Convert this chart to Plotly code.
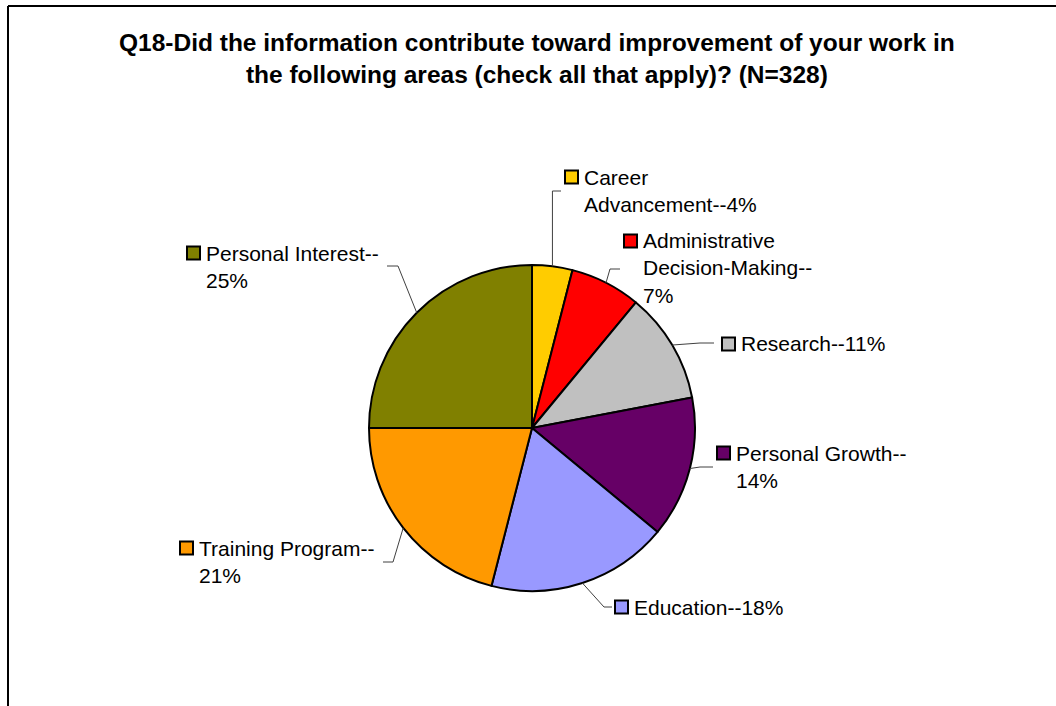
import math
import plotly.graph_objects as go

# Survey responses (percent of mentions), clockwise from 12 o'clock
categories = [
    "Career Advancement",
    "Administrative Decision-Making",
    "Research",
    "Personal Growth",
    "Education",
    "Training Program",
    "Personal Interest",
]
percent = [4, 7, 11, 14, 18, 21, 25]
label_text = [
    "Career<br>Advancement--4%",
    "Administrative<br>Decision-Making--<br>7%",
    "Research--11%",
    "Personal Growth--<br>14%",
    "Education--18%",
    "Training Program--<br>21%",
    "Personal Interest--<br>25%",
]
colors = ["#FFCC00", "#FF0000", "#C0C0C0", "#660066", "#9999FF", "#FF9900", "#808000"]

W, H = 1056, 706
CX, CY, R = 532, 428, 163
FONT = "Liberation Sans, Arial, sans-serif"
FS = 21
LH = 1.3 * FS

# Label placement: text left x, first-line centre y, leader elbow and end (pixels)
label_layout = [
    dict(x=584, y=177, elbow=None, end=(561, 191), vertical=True),
    dict(x=643, y=241, elbow=(610, 269), end=(620, 269)),
    dict(x=741, y=344, elbow=(700, 343), end=(714, 343)),
    dict(x=736, y=453, elbow=(700, 467), end=(713, 467)),
    dict(x=634, y=607, elbow=(604, 607), end=(612, 607)),
    dict(x=199, y=548, elbow=(393, 562), end=(383, 562)),
    dict(x=206, y=253, elbow=(398, 266), end=(387, 266)),
]


def px(x):
    return x / W


def py(y):
    return 1 - y / H


fig = go.Figure(
    go.Pie(
        labels=categories,
        values=percent,
        sort=False,
        direction="clockwise",
        rotation=0,
        marker=dict(colors=colors, line=dict(color="#000000", width=2)),
        textinfo="none",
        hoverinfo="label+percent",
        showlegend=False,
        domain=dict(x=[px(CX - R), px(CX + R)], y=[py(CY + R), py(CY - R)]),
    )
)

shapes = []
annotations = []

# Outer frame (top and left edges visible)
shapes.append(dict(type="line", xref="paper", yref="paper", x0=px(8), y0=py(6), x1=1.0, y1=py(6),
                   line=dict(color="#000000", width=2)))
shapes.append(dict(type="line", xref="paper", yref="paper", x0=px(8), y0=py(6), x1=px(8), y1=0.0,
                   line=dict(color="#000000", width=2)))

total = sum(percent)
cum = 0.0
for val, txt, col, spec in zip(percent, label_text, colors, label_layout):
    mid = (cum + val / 2) / total * 2 * math.pi
    cum += val
    sx = CX + R * math.sin(mid)
    sy = CY - R * math.cos(mid)
    if spec.get("vertical"):
        elbow = (sx, spec["end"][1])
    else:
        elbow = spec["elbow"]
    ex, ey = spec["end"]
    path = f"M {px(sx)},{py(sy)} L {px(elbow[0])},{py(elbow[1])} L {px(ex)},{py(ey)}"
    shapes.append(dict(type="path", xref="paper", yref="paper", path=path,
                       line=dict(color="#404040", width=1)))

    tx, ty = spec["x"], spec["y"]
    # legend key square
    shapes.append(dict(type="rect", xref="paper", yref="paper",
                       x0=px(tx - 19), x1=px(tx - 6), y0=py(ty + 6.5), y1=py(ty - 6.5),
                       fillcolor=col, line=dict(color="#000000", width=2)))
    n = txt.count("<br>") + 1
    cy = ty + (n - 1) * LH / 2
    annotations.append(dict(xref="paper", yref="paper", x=px(tx - 2), y=py(cy),
                            xanchor="left", yanchor="middle", align="left",
                            text=txt, showarrow=False,
                            font=dict(family=FONT, size=FS, color="#000000")))

title_lines = [
    "Q18-Did the information contribute toward improvement of your work in",
    "the following areas (check all that apply)? (N=328)",
]
annotations.append(dict(xref="paper", yref="paper", x=px(537), y=py(59),
                        xanchor="center", yanchor="middle", align="center",
                        text="<b>" + "<br>".join(title_lines) + "</b>", showarrow=False,
                        font=dict(family=FONT, size=24.5, color="#000000")))

fig.update_layout(
    width=W,
    height=H,
    margin=dict(l=0, r=0, t=0, b=0),
    paper_bgcolor="#FFFFFF",
    plot_bgcolor="#FFFFFF",
    shapes=shapes,
    annotations=annotations,
)

fig.write_html("out.html")
